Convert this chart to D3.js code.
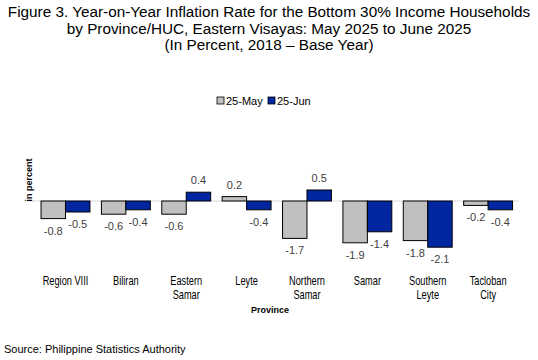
<!DOCTYPE html>
<html><head><meta charset="utf-8">
<script src="https://cdn.jsdelivr.net/npm/d3@7/dist/d3.min.js"></script>
<style>body{margin:0;background:#fff;} text{font-family:Arial,"Liberation Sans",sans-serif;}</style>
</head><body>
<svg id="c" width="538" height="360"></svg>
<script>
const categories = ["Region VIII","Biliran","Eastern Samar","Leyte","Northern Samar","Samar","Southern Leyte","Tacloban City"];
const tickLabels = [["Region VIII"],["Biliran"],["Eastern","Samar"],["Leyte"],["Northern","Samar"],["Samar"],["Southern","Leyte"],["Tacloban","City"]];
const seriesNames = ["25-May","25-Jun"];
const may = [-0.8,-0.6,-0.6,0.2,-1.7,-1.9,-1.8,-0.2];
const jun = [-0.5,-0.4,0.4,-0.4,0.5,-1.4,-2.1,-0.4];
const colors = ["#c0c0c0","#0027a0"];
const titleLines = ["Figure 3. Year-on-Year Inflation Rate for the Bottom 30% Income Households","by Province/HUC, Eastern Visayas: May 2025 to June 2025","(In Percent, 2018 \u2013 Base Year)"];

const svg = d3.select("#c");
svg.selectAll("text.title").data(titleLines).enter().append("text")
  .attr("x",269).attr("y",(d,i)=>17+i*16.5).attr("text-anchor","middle")
  .attr("font-size",15.3).attr("fill","#000").text(d=>d);

const x = d3.scaleBand().domain(categories).range([35.3,518.3]).paddingInner(0.19).paddingOuter(0.095);
const xs = d3.scaleBand().domain(seriesNames).range([0,x.bandwidth()]);
const y = d3.scaleLinear().domain([-2.5,1]).range([256,179]);

svg.append("line").attr("x1",27).attr("x2",519).attr("y1",y(0)).attr("y2",y(0))
  .attr("stroke","#d9d9d9").attr("stroke-width",1);

const series = [may,jun];
series.forEach((vals,si)=>{
  const g = svg.append("g");
  g.selectAll("rect").data(vals).enter().append("rect")
    .attr("x",(d,i)=>x(categories[i])+xs(seriesNames[si]))
    .attr("width",xs.bandwidth())
    .attr("y",d=>y(Math.max(0,d)))
    .attr("height",d=>Math.abs(y(d)-y(0)))
    .attr("fill",colors[si]).attr("stroke","#000").attr("stroke-width",1);
  g.selectAll("text").data(vals).enter().append("text")
    .attr("x",(d,i)=>x(categories[i])+xs(seriesNames[si])+xs.bandwidth()/2)
    .attr("y",d=> d>=0 ? y(d)-8 : y(d)+16)
    .attr("text-anchor","middle").attr("font-size",11).attr("fill","#404040")
    .text(d=>d.toFixed(1));
});

const ax = svg.append("g").attr("transform","translate(0,273)")
  .call(d3.axisBottom(x).tickSize(0).tickFormat(""));
ax.select(".domain").remove();
ax.selectAll(".tick").each(function(d,i){
  const t = d3.select(this).append("text").attr("fill","#000")
    .attr("font-size",12).attr("text-anchor","middle")
    .attr("transform","scale(0.77,1)")
    .attr("y",12.5);
  tickLabels[i].forEach((l,j)=>t.append("tspan").attr("x",0).attr("dy",j?14:0).text(l));
});

svg.append("text").attr("x",270).attr("y",313).attr("text-anchor","middle")
  .attr("font-size",9).attr("font-weight","bold").attr("fill","#000").text("Province");
svg.append("text").attr("transform","translate(32,180) rotate(-90)").attr("text-anchor","middle")
  .attr("font-size",9).attr("font-weight","bold").attr("fill","#000").text("in percent");

const lg = svg.append("g");
const lx = [217,268];
seriesNames.forEach((n,i)=>{
  lg.append("rect").attr("x",lx[i]).attr("y",97).attr("width",7).attr("height",7)
    .attr("fill",colors[i]).attr("stroke","#000").attr("stroke-width",0.8);
  lg.append("text").attr("x",lx[i]+9).attr("y",104.5).attr("font-size",11).attr("fill","#000").text(n);
});

svg.append("text").attr("x",4).attr("y",353).attr("font-size",11).attr("fill","#000")
  .text("Source: Philippine Statistics Authority");
</script>
</body></html>
